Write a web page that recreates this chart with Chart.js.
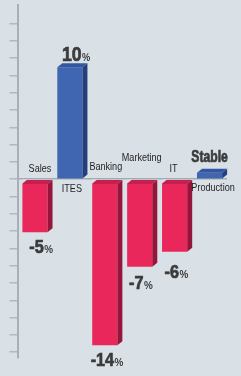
<!DOCTYPE html>
<html>
<head>
<meta charset="utf-8">
<script src="https://cdn.jsdelivr.net/npm/chart.js@4"></script>
<style>
    html, body { margin: 0; padding: 0; background: #d9e0e6; }
    canvas { display: block; }
</style>
</head>
<body>
<canvas id="jobChart" width="241" height="376"></canvas>
<script>
// Data
const categories = ['Sales', 'ITES', 'Banking', 'Marketing', 'IT', 'Production'];
const changeValues = [-4.6, 9.7, -14.4, -7.6, -6.3, 0.55];   // bar heights as drawn
const valueLabels = ['-5', '10', '-14', '-7', '-6', 'Stable'];
const tickValues = [-15, -13.5, -12, -10.5, -9, -7.5, -6, -4.5, -3, -1.5, 0,
    1.5, 3, 4.5, 6, 7.5, 9, 10.5, 12, 13.5];

// Layout tweaks for the hand-placed labels (pixels)
const nameShiftX = [5, 2, 1, 2, -1, 3.5];
const nameShiftY = [-10, 10, -12, -21, -10, 9];
const valueShiftX = [6, 6, 2, 1, 1.5, 0];
const valueShiftY = [14, -14, 14, 16, 20, -15];

const redFaces = { front: '#e9275b', top: '#c41f4d', side: '#97143a' };
const blueFaces = { front: '#4066b2', top: '#3356a3', side: '#253f7c' };
const bgColor = '#d9e0e6';
const labelFont = '"Liberation Sans", Arial, sans-serif';

// Text squeezed sideways, the original uses a narrow typeface
function narrowText(ctx, text, x, y, squeeze) {
    ctx.save();
    ctx.translate(x, y);
    ctx.scale(squeeze, 1);
    ctx.fillText(text, 0, 0);
    if (ctx.lineWidth > 0 && ctx.strokeStyle && ctx.__heavy) ctx.strokeText(text, 0, 0);
    ctx.restore();
}

// Draws the top and side faces of each bar so they look like boxes
const boxFaces = {
    id: 'boxFaces',
    afterDatasetsDraw(chart) {
        const ctx = chart.ctx;
        const meta = chart.getDatasetMeta(0);
        const dx = 5, dy = 4;
        meta.data.forEach((bar, i) => {
            const { x, y, base, width } = bar.getProps(['x', 'y', 'base', 'width'], true);
            const left = x - width / 2;
            const right = x + width / 2;
            const up = changeValues[i] >= 0;
            const faces = up ? blueFaces : redFaces;
            ctx.save();
            if (up) {
                ctx.fillStyle = faces.side;
                ctx.beginPath();
                ctx.moveTo(right, y);
                ctx.lineTo(right + dx, y - dy);
                ctx.lineTo(right + dx, base - dy);
                ctx.lineTo(right, base);
                ctx.closePath();
                ctx.fill();
                ctx.fillStyle = faces.top;
                ctx.beginPath();
                ctx.moveTo(left, y);
                ctx.lineTo(left + dx, y - dy);
                ctx.lineTo(right + dx, y - dy);
                ctx.lineTo(right, y);
                ctx.closePath();
                ctx.fill();
            } else {
                // clear the corner left of the top face
                ctx.fillStyle = bgColor;
                ctx.beginPath();
                ctx.moveTo(left - 0.5, base - 0.5);
                ctx.lineTo(left + dx, base - 0.5);
                ctx.lineTo(left - 0.5, base + dy);
                ctx.closePath();
                ctx.fill();
                ctx.fillStyle = faces.top;
                ctx.beginPath();
                ctx.moveTo(left, base + dy);
                ctx.lineTo(left + dx, base);
                ctx.lineTo(right + dx, base);
                ctx.lineTo(right, base + dy);
                ctx.closePath();
                ctx.fill();
                ctx.fillStyle = faces.side;
                ctx.beginPath();
                ctx.moveTo(right, base + dy);
                ctx.lineTo(right + dx, base);
                ctx.lineTo(right + dx, y - dy);
                ctx.lineTo(right, y);
                ctx.closePath();
                ctx.fill();
            }
            ctx.restore();
        });
    }
};

// Category names and the big percentage labels
const barLabels = {
    id: 'barLabels',
    afterDraw(chart) {
        const ctx = chart.ctx;
        const meta = chart.getDatasetMeta(0);
        const zeroY = chart.scales.y.getPixelForValue(0);
        meta.data.forEach((bar, i) => {
            const { x, y } = bar.getProps(['x', 'y'], true);
            ctx.save();
            ctx.textAlign = 'center';
            ctx.textBaseline = 'middle';
            ctx.fillStyle = '#1f1f1f';
            ctx.font = '11.5px ' + labelFont;
            narrowText(ctx, categories[i], x + nameShiftX[i], zeroY + nameShiftY[i], 0.79);

            const cx = x + valueShiftX[i];
            const cy = y + valueShiftY[i];
            ctx.fillStyle = '#3b3b3b';
            ctx.strokeStyle = '#3b3b3b';
            ctx.lineWidth = 0.7;
            ctx.__heavy = true;
            if (valueLabels[i] === 'Stable') {
                ctx.font = 'bold 16px ' + labelFont;
                narrowText(ctx, valueLabels[i], cx, cy, 0.76);
            } else {
                const up = changeValues[i] >= 0;
                const big = up ? 21 : 18;
                const squeeze = up ? 0.84 : 0.9;
                const bigFont = 'bold ' + big + 'px ' + labelFont;
                const smallFont = 'bold 11px ' + labelFont;
                ctx.font = bigFont;
                const wNum = ctx.measureText(valueLabels[i]).width * squeeze;
                ctx.font = smallFont;
                const wPct = ctx.measureText('%').width * squeeze;
                const startX = cx - (wNum + wPct) / 2;
                const baseY = cy + big * 0.36;
                ctx.textAlign = 'left';
                ctx.textBaseline = 'alphabetic';
                ctx.font = bigFont;
                narrowText(ctx, valueLabels[i], startX, baseY, squeeze);
                ctx.__heavy = false;
                ctx.font = smallFont;
                narrowText(ctx, '%', startX + wNum + 0.5, baseY, squeeze);
            }
            ctx.__heavy = false;
            ctx.restore();
        });
    }
};

const ctx = document.getElementById('jobChart').getContext('2d');
new Chart(ctx, {
    type: 'bar',
    data: {
        labels: categories,
        datasets: [{
            data: changeValues,
            backgroundColor: changeValues.map(v => v >= 0 ? blueFaces.front : redFaces.front),
            borderWidth: 0,
            barPercentage: 0.72,
            categoryPercentage: 1
        }]
    },
    options: {
        responsive: false,
        animation: false,
        devicePixelRatio: 1,
        layout: { padding: { left: 9.5, top: 5, right: 14, bottom: 18 } },
        plugins: {
            legend: { display: false },
            tooltip: { enabled: false }
        },
        scales: {
            x: {
                display: false,
                offset: true
            },
            y: {
                min: -15.5,
                max: 15.1,
                afterBuildTicks: scale => {
                    scale.ticks = tickValues.map(v => ({ value: v }));
                },
                ticks: { display: false },
                grid: {
                    drawOnChartArea: true,
                    tickLength: 8,
                    lineWidth: 1.5,
                    color: c => (c.tick && c.tick.value === 0) ? '#a3aab1' : 'rgba(0,0,0,0)',
                    tickColor: '#b2b8be'
                },
                border: { color: '#a9afb5', width: 2 }
            }
        }
    },
    plugins: [boxFaces, barLabels]
});
</script>
</body>
</html>
